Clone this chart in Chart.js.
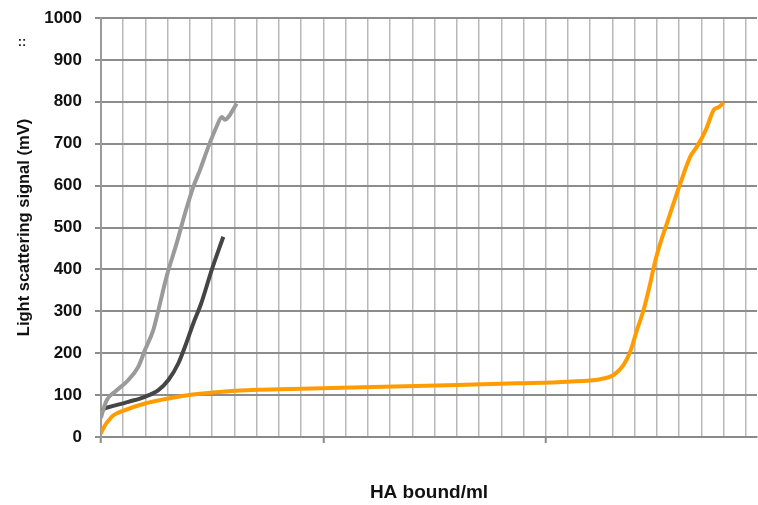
<!DOCTYPE html>
<html>
<head>
<meta charset="utf-8">
<script src="https://cdn.jsdelivr.net/npm/chart.js@4.4.1/dist/chart.umd.min.js"></script>
<style>
  html, body { margin: 0; padding: 0; background: #fff; }
  #wrap { width: 758px; height: 505px; }
</style>
</head>
<body>
<div id="wrap"><canvas id="chart" width="758" height="505"></canvas></div>
<script>
// Valores (x em divisões da grade, y em mV)
const yTicks = [0, 100, 200, 300, 400, 500, 600, 700, 800, 900, 1000];

const lightX = [0, 0.03, 0.26, 0.63, 1.23, 1.68, 1.98, 2.35, 2.6, 2.95, 3.4, 3.78, 4.15, 4.45, 4.83, 5.2, 5.43, 5.58, 5.73, 6.1];
const lightY = [45, 52, 88, 108, 136, 168, 208, 255, 307, 383, 462, 534, 597, 637, 693, 741, 764, 757, 764, 796];

const darkX = [0, 0.03, 0.33, 1.23, 1.98, 2.58, 3.03, 3.48, 3.78, 4.15, 4.5, 4.98, 5.5];
const darkY = [50, 60, 71, 84, 96, 112, 136, 176, 216, 271, 318, 399, 478];

const orangeX = [0, 0.03, 0.48, 1.08, 1.98, 3.03, 4.23, 5.88, 9.0, 12.7, 16.0, 18.7, 21.0, 22.45, 23.05, 23.5, 23.8, 24.1, 24.4, 24.7, 24.9, 25.15, 25.45, 25.75, 26.05, 26.5, 26.8, 27.2, 27.55, 27.8, 28.0];
const orangeY = [8, 13, 48, 64, 80, 92, 102, 110, 115, 120, 124, 128, 132, 138, 148, 172, 204, 255, 303, 367, 415, 462, 510, 558, 605, 669, 693, 733, 780, 788, 798];

function pts(xs, ys) {
    return xs.map((x, i) => ({ x: x, y: ys[i] }));
}

const boldFont = 'Liberation Sans, Arial, sans-serif';

// Pequena marca "::" no canto superior esquerdo
const marksPlugin = {
    id: 'marks',
    afterDraw(chart) {
        const ctx = chart.ctx;
        ctx.save();
        ctx.fillStyle = '#222';
        ctx.font = 'bold 13px ' + boldFont;
        ctx.textAlign = 'center';
        ctx.textBaseline = 'middle';
        ctx.fillText('::', 22, 42);
        ctx.restore();
    }
};

function serie(label, xs, ys, color) {
    return {
        label: label,
        data: pts(xs, ys),
        borderColor: color,
        borderWidth: 4,
        pointRadius: 0,
        cubicInterpolationMode: 'monotone'
    };
}

window.onload = function() {
    window.lineChart = new Chart(document.getElementById('chart'), {
        type: 'line',
        data: {
            datasets: [
                serie('light', lightX, lightY, '#9a9a9a'),
                serie('dark', darkX, darkY, '#454545'),
                serie('orange', orangeX, orangeY, '#ff9c00')
            ]
        },
        options: {
            responsive: false,
            animation: false,
            layout: { padding: { top: 18, right: 1, left: 0, bottom: 0 } },
            plugins: {
                legend: { display: false },
                tooltip: { enabled: false }
            },
            scales: {
                x: {
                    type: 'linear',
                    min: 0,
                    max: 29.5,
                    afterFit: function(scale) {
                        scale.height = 68;
                        scale.paddingLeft = 0;
                        scale.paddingRight = 0;
                    },
                    ticks: {
                        stepSize: 1,
                        includeBounds: false,
                        display: false
                    },
                    grid: {
                        color: '#b9b9b9',
                        lineWidth: 1.5,
                        tickLength: 6,
                        tickColor: function(ctx) {
                            return ctx.tick && ctx.tick.value % 10 === 0 ? '#8a8a8a' : 'rgba(0,0,0,0)';
                        },
                        tickWidth: 2
                    },
                    border: { color: '#8a8a8a', width: 2 },
                    title: {
                        display: true,
                        text: 'HA bound/ml',
                        color: '#111',
                        font: { family: boldFont, size: 19, weight: 'bold' },
                        padding: { top: 0, bottom: 1 }
                    }
                },
                y: {
                    min: 0,
                    max: 1000,
                    afterFit: function(scale) {
                        scale.width = 101;
                        scale.paddingTop = 0;
                        scale.paddingBottom = 0;
                    },
                    afterBuildTicks: function(scale) {
                        scale.ticks = yTicks.map(v => ({ value: v }));
                    },
                    ticks: {
                        padding: 13,
                        color: '#111',
                        font: { family: boldFont, size: 17, weight: 'bold' },
                        callback: function(value) { return String(value); }
                    },
                    grid: {
                        color: '#8c8c8c',
                        lineWidth: 2,
                        tickLength: 6
                    },
                    border: { color: '#9a9a9a', width: 2 },
                    title: {
                        display: true,
                        text: 'Light scattering signal (mV)',
                        color: '#111',
                        font: { family: boldFont, size: 16.5, weight: 'bold' },
                        padding: { top: 15, bottom: 0 }
                    }
                }
            }
        },
        plugins: [marksPlugin]
    });
};
</script>
</body>
</html>
